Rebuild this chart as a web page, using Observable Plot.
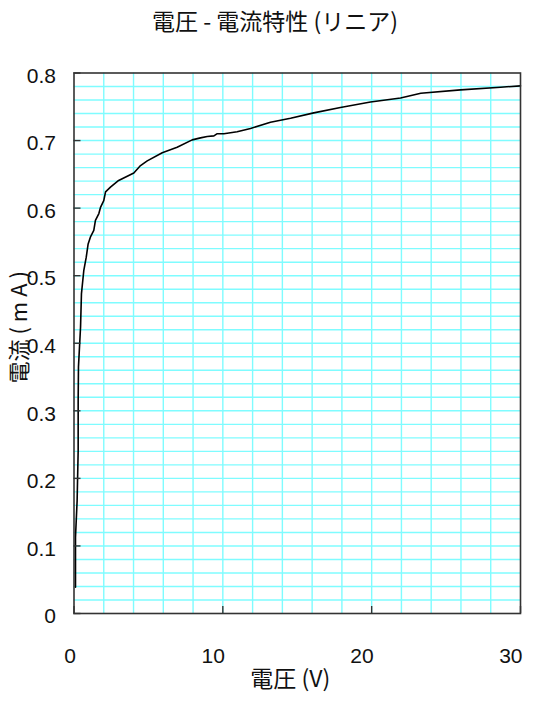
<!DOCTYPE html>
<html>
<head>
<meta charset="utf-8">
<script src="https://cdn.jsdelivr.net/npm/d3@7"></script>
<script src="https://cdn.jsdelivr.net/npm/@observablehq/plot@0.6"></script>
<style>
  body { margin: 0; background: #fff; }
  #title { height: 40px; line-height: 40px; width: 541px; text-align: center; padding-left: 9px; box-sizing: border-box;
    font-family: "Noto Sans CJK JP", "Liberation Sans", sans-serif; font-size: 23px; color: #111; letter-spacing: 0px; }
  #chart svg { display: block; }
</style>
</head>
<body>
<div id="title">電圧 - 電流特性 (リニア)</div>
<div id="chart"></div>
<script>
const voltage = [0.1,0.1,0.21,0.28,0.28,0.3,0.44,0.5,0.66,0.82,0.95,1.1,1.33,1.44,1.67,1.78,2.0,2.12,2.45,3.0,4.02,4.47,4.92,5.93,6.93,7.94,8.5,8.95,9.4,9.6,10.07,10.96,11.86,13.2,14.55,16.11,17.9,19.92,21.94,23.3,25.97,28.66,30];
const current = [0.039,0.113,0.167,0.241,0.315,0.365,0.424,0.473,0.508,0.527,0.547,0.557,0.567,0.582,0.592,0.601,0.611,0.624,0.631,0.641,0.652,0.663,0.670,0.682,0.690,0.701,0.704,0.706,0.707,0.710,0.710,0.713,0.718,0.727,0.733,0.741,0.749,0.757,0.763,0.770,0.775,0.779,0.781];
const xTicks = [0, 10, 20, 30];
const yTicks = [0, 0.1, 0.2, 0.3, 0.4, 0.5, 0.6, 0.7, 0.8];
const xGrid = [2,4,6,8,10,12,14,16,18,20,22,24,26,28];
const yGrid = [0.02,0.04,0.06,0.08,0.1,0.12,0.14,0.16,0.18,0.2,0.22,0.24,0.26,0.28,0.3,0.32,0.34,0.36,0.38,0.4,0.42,0.44,0.46,0.48,0.5,0.52,0.54,0.56,0.58,0.6,0.62,0.64,0.66,0.68,0.7,0.72,0.74,0.76,0.78];
const xLabel = "電圧 (V)";
const yLabel = "電流 ( m A )";

const data = voltage.map((v, i) => ({v, i: current[i]}));
const font = "'Liberation Sans', 'Noto Sans CJK JP', sans-serif";
const grid = "#7ffcff";
const W = 541, H = 667, ML = 73.5, MR = 21, MT = 32.5, MB = 94;
const tickLen = 7;

const chart = Plot.plot({
  width: W,
  height: H,
  marginLeft: ML,
  marginRight: MR,
  marginTop: MT,
  marginBottom: MB,
  style: {fontFamily: font, background: "#fff", color: "#111"},
  x: {domain: [0, 30]},
  y: {domain: [0, 0.8]},
  marks: [
    Plot.ruleX(xGrid, {stroke: grid, strokeWidth: 1.4}),
    Plot.ruleY(yGrid, {stroke: grid, strokeWidth: 1.4}),
    Plot.line(data, {x: "v", y: "i", stroke: "#000", strokeWidth: 1.6}),
    Plot.ruleX(xTicks, {stroke: "#333", strokeWidth: 1.4, insetTop: (H - MT - MB) - tickLen}),
    Plot.ruleY(yTicks, {stroke: "#333", strokeWidth: 1.4, insetRight: (W - ML - MR) - tickLen}),
    Plot.axisX({ticks: xTicks, tickSize: 0, tickPadding: 35, fontSize: 21, label: null, textAnchor: "end", dx: 2, tickFormat: d3.format("d")}),
    Plot.axisY({ticks: yTicks, tickSize: 0, tickPadding: 18, fontSize: 21, dy: 3, label: null, tickFormat: d => d === 0 ? "0" : d3.format(".1f")(d)}),
    Plot.frame({stroke: "#333", strokeWidth: 1.6}),
    Plot.text([xLabel], {frameAnchor: "bottom", dx: -7, dy: 73, fontSize: 23, fill: "#111", fontFamily: "'Noto Sans CJK JP', sans-serif"}),
    Plot.text([yLabel], {frameAnchor: "left", textAnchor: "middle", dx: -54, dy: -16, rotate: -90, fontSize: 22, fill: "#111", fontFamily: "'Noto Sans CJK JP', sans-serif"})
  ]
});
document.getElementById("chart").appendChild(chart);
</script>
</body>
</html>
